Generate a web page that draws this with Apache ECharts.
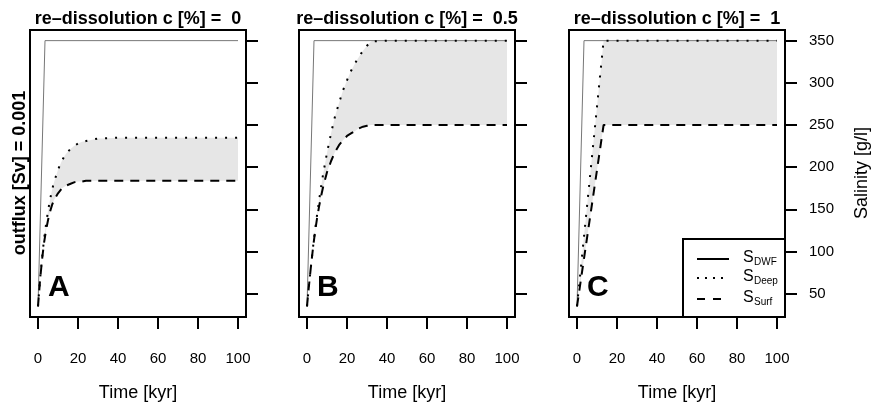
<!DOCTYPE html>
<html>
<head>
<meta charset="utf-8">
<script src="https://cdn.jsdelivr.net/npm/echarts@6/dist/echarts.min.js"></script>
<style>html,body{margin:0;padding:0;background:#fff}#c{width:871px;height:408px}</style>
</head>
<body>
<div id="c"></div>
<script>
// ---- data ----
const panelTitles = ['re\u2013dissolution c [%] =  0', 're\u2013dissolution c [%] =  0.5', 're\u2013dissolution c [%] =  1'];
const panelLetters = ['A', 'B', 'C'];
const xTicks = [0, 20, 40, 60, 80, 100];
const yTicks = [50, 100, 150, 200, 250, 300, 350];

const timeDWF = [0, 3.5, 100];
const dwfA = [35, 350, 350];
const dwfB = [35, 350, 350];
const dwfC = [35, 350, 350];

const timeA = [0,1,2,3,4,5,6,7,8,10,12,14,16,18,20,22,24,26,28,30,32,40,100];
const deepA = [35,66,92,114,132,148,161,173,182,197,208,216,221,225,228,230,231,232,233,234,234,235,235];
const surfA = [35,65,90,110,125,137,147,155,161,169,175,178,180,182,183,183,184,184,184,184,184,184,184];

const timeB = [0,1,2,3,4,5,6,7,8,10,12,14,16,18,20,22,24,26,28,30,32,33,40,100];
const deepB = [35,60,83,105,125,143,160,176,191,217,240,260,276,291,303,314,323,331,338,344,349,350,350,350];
const surfB = [35,60,83,104,123,139,153,165,176,194,207,218,226,232,237,240,243,246,248,249,250,250,250,250];

const timeC = [0, 13.3, 100];
const deepC = [35, 350, 350];
const surfC = [35, 250, 250];

// ---- chart ----
const FONT = '"Liberation Sans", Arial, Helvetica, sans-serif';
const panels = [
  {time: timeA, deep: deepA, surf: surfA, dwf: dwfA, left: 30},
  {time: timeB, deep: deepB, surf: surfB, dwf: dwfB, left: 299},
  {time: timeC, deep: deepC, surf: surfC, dwf: dwfC, left: 569}
];
const PW = 216, PT = 30, PH = 287;

const zip = (a, b) => a.map((v, i) => [v, b[i]]);

const grids = [], xAxes = [], yAxes = [], series = [], graphics = [];
panels.forEach((p, i) => {
  grids.push({left: p.left, top: PT, width: PW, height: PH, show: true,
    borderColor: '#000', borderWidth: 2, backgroundColor: 'transparent', containLabel: false});
  xAxes.push({type: 'value', gridIndex: i, min: -4, max: 104,
    name: 'Time [kyr]', nameLocation: 'middle', nameGap: 67,
    nameTextStyle: {fontSize: 18, color: '#000', fontFamily: FONT},
    axisLine: {show: false, onZero: false},
    axisTick: {show: true, inside: false, length: 12, customValues: xTicks, lineStyle: {color: '#000', width: 2}},
    axisLabel: {show: true, customValues: xTicks, margin: 34, fontSize: 15, color: '#000', fontFamily: FONT},
    splitLine: {show: false}});
  yAxes.push({type: 'value', gridIndex: i, position: 'right', min: 22.4, max: 362.6,
    axisLine: {show: false, onZero: false},
    axisTick: {show: true, inside: false, length: 12, customValues: yTicks, lineStyle: {color: '#000', width: 2}},
    axisLabel: {show: i === 2, customValues: yTicks, margin: 24, fontSize: 15, color: '#000', fontFamily: FONT},
    splitLine: {show: false}});
  // shaded band between deep and surf, drawn through the axis scales
  const bandData = p.time.map((t, k) => [t, p.deep[k], p.surf[k]]);
  series.push({type: 'custom', xAxisIndex: i, yAxisIndex: i, data: bandData, silent: true, z: 1,
    encode: {x: 0, y: [1, 2]},
    renderItem: function (params, api) {
      if (params.dataIndex !== 0) return null;
      const upper = bandData.map(d => api.coord([d[0], d[1]]));
      const lower = bandData.map(d => api.coord([d[0], d[2]])).reverse();
      return {type: 'polygon', shape: {points: upper.concat(lower)},
        style: {fill: '#e6e6e6', stroke: null}};
    }});
  series.push({type: 'line', xAxisIndex: i, yAxisIndex: i, data: zip(timeDWF, p.dwf), symbol: 'none',
    lineStyle: {color: '#777', width: 1}, z: 3});
  series.push({type: 'line', xAxisIndex: i, yAxisIndex: i, data: zip(p.time, p.deep), symbol: 'none',
    lineStyle: {color: '#000', width: 2, type: [2, 8], cap: 'butt'}, z: 3});
  series.push({type: 'line', xAxisIndex: i, yAxisIndex: i, data: zip(p.time, p.surf), symbol: 'none',
    lineStyle: {color: '#000', width: 2, type: [9, 7], cap: 'butt'}, z: 3});

  graphics.push({type: 'text', x: p.left + PW / 2, y: 19, z: 10,
    style: {text: panelTitles[i], font: 'bold 18px ' + FONT, fill: '#000', align: 'center', verticalAlign: 'middle'}});
  graphics.push({type: 'text', x: p.left + 18, y: 288, z: 10,
    style: {text: panelLetters[i], font: 'bold 30px ' + FONT, fill: '#000', align: 'left', verticalAlign: 'middle'}});
});

graphics.push({type: 'text', x: 20, y: 173, rotation: Math.PI / 2, z: 10,
  style: {text: 'outflux [Sv] = 0.001', font: 'bold 18px ' + FONT, fill: '#000', align: 'center', verticalAlign: 'middle'}});
graphics.push({type: 'text', x: 862, y: 173, rotation: Math.PI / 2, z: 10,
  style: {text: 'Salinity [g/l]', font: '18px ' + FONT, fill: '#000', align: 'center', verticalAlign: 'middle'}});

// legend (panel C)
const legX = 683, legY = 239, legW = 785 - 683, legH = 317 - 239;
graphics.push({type: 'rect', z: 20, shape: {x: legX, y: legY, width: legW, height: legH},
  style: {fill: '#fff', stroke: '#000', lineWidth: 2}});
const legItems = [
  {sub: 'DWF', dash: null, y: 259},
  {sub: 'Deep', dash: [2, 6], y: 278},
  {sub: 'Surf', dash: [8, 8], y: 299}
];
legItems.forEach(it => {
  graphics.push({type: 'line', z: 21, shape: {x1: 697, y1: it.y, x2: 729, y2: it.y},
    style: {stroke: '#000', lineWidth: 2, lineDash: it.dash, lineCap: 'butt'}});
  graphics.push({type: 'text', z: 21, x: 743, y: it.y - 1,
    style: {text: 'S', font: '16px ' + FONT, fill: '#000', align: 'left', verticalAlign: 'middle'}});
  graphics.push({type: 'text', z: 21, x: 754, y: it.y + 3,
    style: {text: it.sub, font: '10px ' + FONT, fill: '#000', align: 'left', verticalAlign: 'middle'}});
});

const chart = echarts.init(document.getElementById('c'), null, {renderer: 'canvas'});
chart.setOption({
  animation: false,
  backgroundColor: '#fff',
  grid: grids,
  xAxis: xAxes,
  yAxis: yAxes,
  series: series,
  graphic: graphics
});
</script>
</body>
</html>
